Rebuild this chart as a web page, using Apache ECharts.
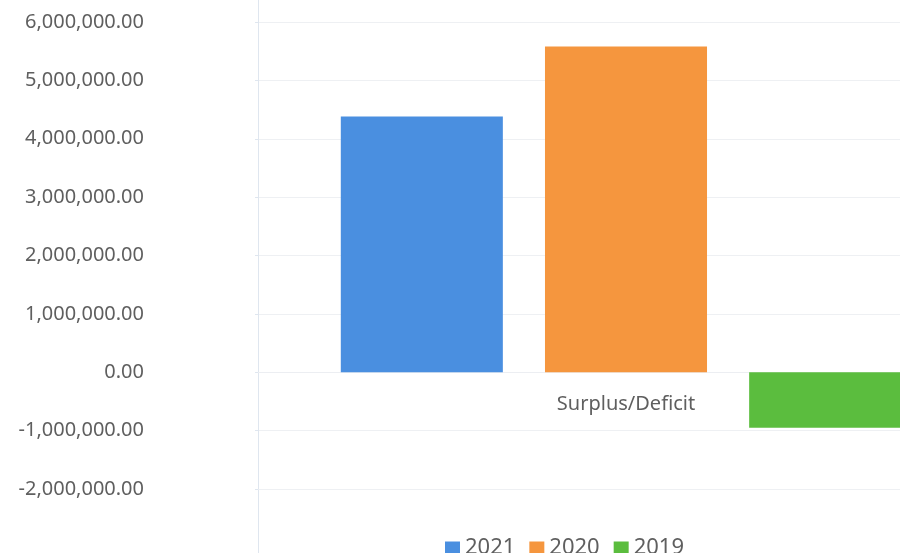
<!DOCTYPE html>
<html>
<head>
<meta charset="utf-8">
<script src="https://cdn.jsdelivr.net/npm/echarts@6/dist/echarts.min.js"></script>
<style>
  html, body { margin: 0; padding: 0; background: #fff; overflow: hidden; }
  /* the plot area runs past the right edge of the window */
  #chart { width: 994px; height: 553px; }
</style>
</head>
<body>
<div id="chart"></div>
<script>
// Surplus/Deficit by year
const categories = ['Surplus/Deficit'];
const years = ['2021', '2020', '2019'];
const values2021 = [4380000];
const values2020 = [5580000];
const values2019 = [-950000];
const yTicks = [-2000000, -1000000, 0, 1000000, 2000000, 3000000, 4000000, 5000000, 6000000];

const colors = ['#4a8fe0', '#f5963e', '#5bbd3e'];
const textColor = '#5f5f5f';
const fontFamily = '"Noto Sans", "Open Sans", sans-serif';

const fmt = v => Number(v).toLocaleString('en-US', { minimumFractionDigits: 2, maximumFractionDigits: 2 });

const chart = echarts.init(document.getElementById('chart'), null, { renderer: 'canvas' });

chart.setOption({
  animation: false,
  backgroundColor: '#ffffff',
  color: colors,
  grid: { left: 258, top: 22, right: 0, bottom: 64, containLabel: false },
  legend: {
    data: years,
    left: 440,
    top: 532,
    itemWidth: 15,
    itemHeight: 13,
    itemGap: 14,
    icon: 'rect',
    textStyle: { color: textColor, fontSize: 22, fontFamily: fontFamily, padding: [0, 0, 0, 0] }
  },
  xAxis: {
    type: 'category',
    data: categories,
    // category axis drawn along the zero line
    offset: -117,
    axisLine: { onZero: false, lineStyle: { color: '#eceef2', width: 1 } },
    axisTick: { show: false },
    axisLabel: { color: textColor, fontSize: 20, fontFamily: fontFamily, margin: 22 }
  },
  yAxis: {
    type: 'value',
    min: yTicks[0],
    max: yTicks[yTicks.length - 1],
    interval: 1000000,
    axisLine: { show: true, lineStyle: { color: '#dfe6ef', width: 1 } },
    axisTick: { show: true, length: 3, lineStyle: { color: '#dfe6ef' } },
    splitLine: { show: true, lineStyle: { color: '#eef0f3', width: 1 } },
    axisLabel: {
      color: textColor, fontSize: 20, fontFamily: fontFamily, margin: 114,
      formatter: v => fmt(v)
    }
  },
  series: [
    { name: years[0], type: 'bar', data: values2021, barCategoryGap: '22.5%', barGap: '26%' },
    { name: years[1], type: 'bar', data: values2020, barCategoryGap: '22.5%', barGap: '26%' },
    { name: years[2], type: 'bar', data: values2019, barCategoryGap: '22.5%', barGap: '26%' }
  ],
  graphic: [
    {
      type: 'line',
      shape: { x1: 258.5, y1: 0, x2: 258.5, y2: 22 },
      style: { stroke: '#dfe6ef', lineWidth: 1 }
    },
    {
      type: 'line',
      shape: { x1: 258.5, y1: 489, x2: 258.5, y2: 553 },
      style: { stroke: '#dfe6ef', lineWidth: 1 }
    }
  ]
});
</script>
</body>
</html>
